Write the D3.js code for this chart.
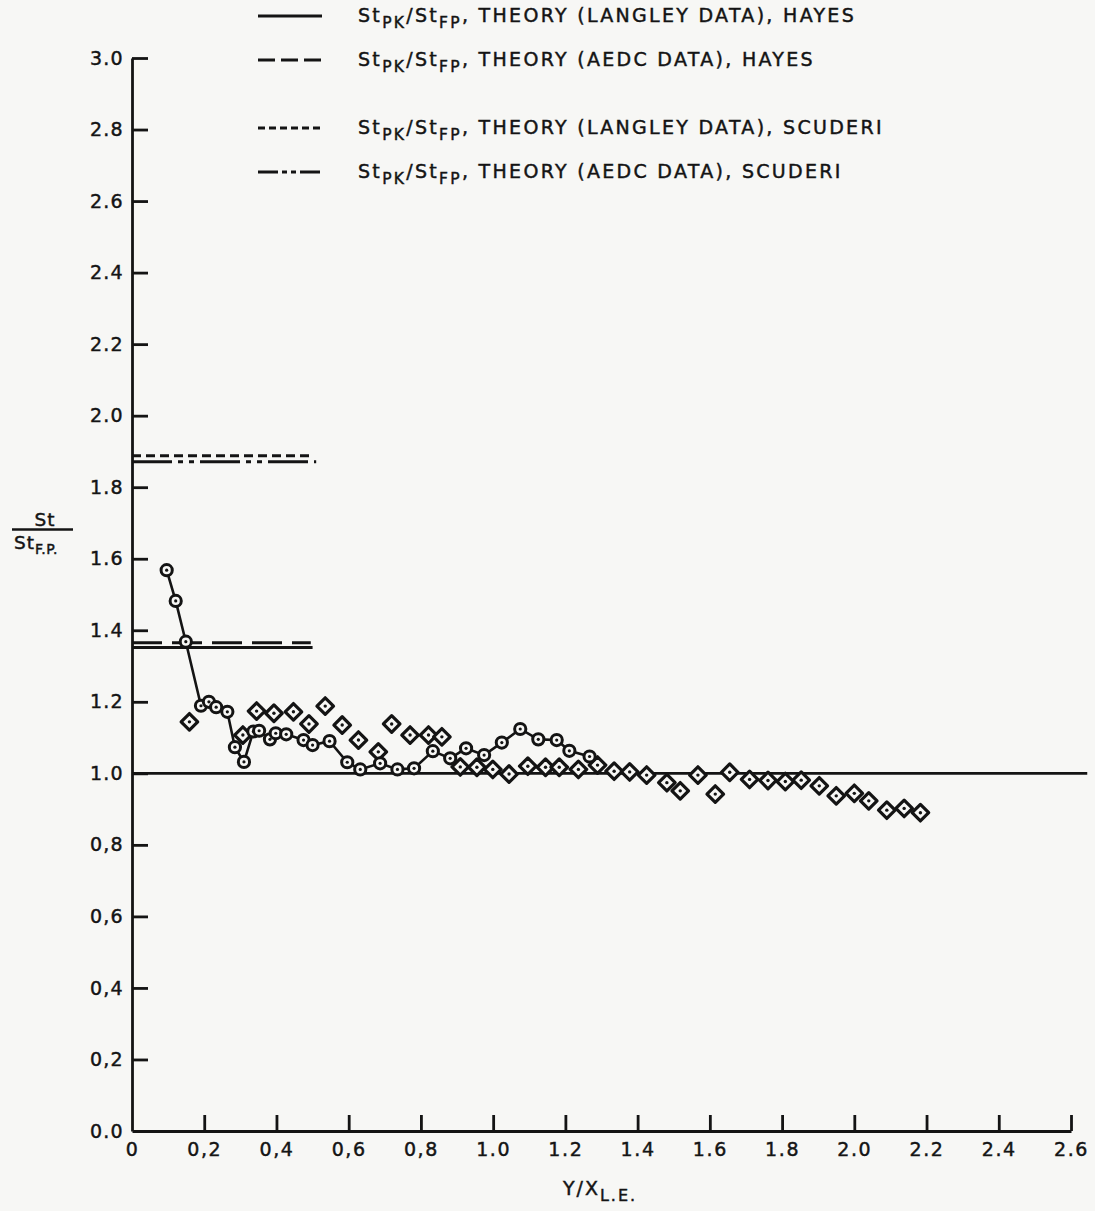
<!DOCTYPE html>
<html><head><meta charset="utf-8">
<script src="https://cdn.jsdelivr.net/npm/d3@7"></script>
<style>body{margin:0;background:#f7f7f5}</style>
</head><body><svg id="c" width="1095" height="1211"></svg>
<script>
// Data: circles (connected) and diamonds
const circleX = [0.096,0.121,0.149,0.191,0.213,0.233,0.264,0.285,0.310,0.336,0.352,0.382,0.398,0.427,0.475,0.500,0.547,0.596,0.632,0.687,0.735,0.781,0.833,0.881,0.925,0.975,1.024,1.075,1.125,1.176,1.211,1.267];
const circleY = [1.568,1.482,1.368,1.189,1.200,1.185,1.172,1.073,1.032,1.117,1.119,1.095,1.112,1.109,1.093,1.079,1.090,1.031,1.011,1.028,1.011,1.014,1.062,1.042,1.070,1.051,1.086,1.124,1.095,1.093,1.063,1.047];
const diamondX = [0.159,0.307,0.345,0.393,0.447,0.490,0.535,0.582,0.627,0.682,0.719,0.770,0.821,0.858,0.909,0.955,0.999,1.044,1.096,1.145,1.183,1.236,1.289,1.335,1.378,1.425,1.481,1.518,1.567,1.615,1.655,1.710,1.761,1.809,1.853,1.903,1.950,2.000,2.040,2.090,2.138,2.183];
const diamondY = [1.144,1.107,1.174,1.168,1.172,1.138,1.188,1.135,1.093,1.060,1.138,1.107,1.107,1.102,1.018,1.017,1.011,0.998,1.020,1.017,1.017,1.011,1.023,1.006,1.004,0.995,0.974,0.951,0.995,0.942,1.003,0.983,0.980,0.977,0.981,0.965,0.937,0.944,0.923,0.897,0.902,0.890];
// Theory lines (value, x extent)
const theoryNames = ["THEORY (LANGLEY DATA), HAYES","THEORY (AEDC DATA), HAYES","THEORY (LANGLEY DATA), SCUDERI","THEORY (AEDC DATA), SCUDERI"];
const theoryValues = [1.352,1.365,1.888,1.871];
const theoryXEnd = [0.5,0.495,0.495,0.51];
const theoryDash = ["none","30,10","9,5","40,6,5,6,5,6"];
const legendDash = ["none","17,6","7,4","20,4,5,4,5,4"];
const refValue = 1.0, refXEnd = 2.645;
const xTicks = [0,0.2,0.4,0.6,0.8,1.0,1.2,1.4,1.6,1.8,2.0,2.2,2.4,2.6];
const xTickLabels = ["0","0,2","0,4","0,6","0,8","1.0","1.2","1.4","1.6","1.8","2.0","2.2","2.4","2.6"];
const yTicks = [0,0.2,0.4,0.6,0.8,1.0,1.2,1.4,1.6,1.8,2.0,2.2,2.4,2.6,2.8,3.0];
const yTickLabels = ["0.0","0,2","0,4","0,6","0,8","1.0","1.2","1.4","1.6","1.8","2.0","2.2","2.4","2.6","2.8","3.0"];

const INK = "#141414";
const BG = "#f7f7f5";
const FONT = "'DejaVu Sans', sans-serif";
const svg = d3.select("#c");
svg.append("rect").attr("width",1095).attr("height",1211).attr("fill",BG);
const x = d3.scaleLinear().domain([0,2.6]).range([132,1071]);
const y = d3.scaleLinear().domain([0,3]).range([1131,58]);

function inkText(sel, size, ls){
  sel.attr("fill",INK).attr("font-family",FONT).attr("font-size",size)
     .attr("letter-spacing",ls).attr("stroke",INK).attr("stroke-width",0.45);
}

// axes
const xAxis = d3.axisBottom(x).tickValues(xTicks).tickFormat((d,i)=>xTickLabels[i]).tickSize(-16).tickSizeOuter(0).tickPadding(12);
const gx = svg.append("g").attr("transform","translate(0,1131)").call(xAxis);
const yAxis = d3.axisLeft(y).tickValues(yTicks).tickFormat((d,i)=>yTickLabels[i]).tickSize(-16).tickSizeOuter(0).tickPadding(8);
const gy = svg.append("g").attr("transform","translate(132,0)").call(yAxis);
[gx,gy].forEach(g=>{
  g.selectAll("path,line").attr("stroke",INK).attr("stroke-width",2.8);
});
inkText(gx.selectAll("text"), 19, 1.6);
inkText(gy.selectAll("text"), 19, 1.3);
gx.selectAll(".tick").filter(d=>d===0).select("line").remove();
gy.selectAll(".tick").filter(d=>d===0).select("line").remove();

// reference line at 1.0
svg.append("line").attr("x1",x(0)).attr("x2",x(refXEnd)).attr("y1",y(refValue)).attr("y2",y(refValue))
  .attr("stroke",INK).attr("stroke-width",2.6);

// theory lines
theoryValues.forEach((v,i)=>{
  svg.append("line").attr("x1",x(0)).attr("x2",x(theoryXEnd[i])).attr("y1",y(v)).attr("y2",y(v))
    .attr("stroke",INK).attr("stroke-width",3).attr("stroke-dasharray",theoryDash[i]);
});

// connecting line for circles
const circ = circleX.map((d,i)=>[d,circleY[i]]);
svg.append("path").datum(circ).attr("d",d3.line().x(d=>x(d[0])).y(d=>y(d[1])))
  .attr("fill","none").attr("stroke",INK).attr("stroke-width",2.6);

// diamonds
const dia = diamondX.map((d,i)=>[d,diamondY[i]]);
const dg = svg.append("g").selectAll("g").data(dia).join("g").attr("transform",d=>`translate(${x(d[0])},${y(d[1])})`);
dg.append("path").attr("d","M0,-8.3L8.3,0L0,8.3L-8.3,0Z").attr("fill",BG).attr("stroke",INK).attr("stroke-width",3.2).attr("stroke-linejoin","round");
dg.append("circle").attr("r",1.7).attr("fill",INK);

// circles
const cg = svg.append("g").selectAll("g").data(circ).join("g").attr("transform",d=>`translate(${x(d[0])},${y(d[1])})`);
cg.append("circle").attr("r",5.6).attr("fill",BG).attr("stroke",INK).attr("stroke-width",3);
cg.append("circle").attr("r",1.6).attr("fill",INK);

// legend
const legendY = [16,60,128,172];
theoryNames.forEach((name,i)=>{
  const ly = legendY[i];
  svg.append("line").attr("x1",258).attr("x2",322).attr("y1",ly).attr("y2",ly)
    .attr("stroke",INK).attr("stroke-width",2.8).attr("stroke-dasharray",legendDash[i]);
  const t = svg.append("text").attr("x",358).attr("y",ly+6);
  inkText(t, 19, 2.3);
  t.append("tspan").text("St");
  t.append("tspan").attr("dy",6).attr("font-size",15.5).text("PK");
  t.append("tspan").attr("dy",-6).text("/St");
  t.append("tspan").attr("dy",6).attr("font-size",15.5).text("FP");
  t.append("tspan").attr("dy",-6).text(", " + name);
});

// y-axis label
const yt = svg.append("text").attr("x",45).attr("y",526).attr("text-anchor","middle");
inkText(yt, 18.5, 1); yt.text("St");
svg.append("line").attr("x1",12).attr("x2",73).attr("y1",529.5).attr("y2",529.5).attr("stroke",INK).attr("stroke-width",2.6);
const yl = svg.append("text").attr("x",14).attr("y",549);
inkText(yl, 18.5, 1);
yl.append("tspan").text("St");
yl.append("tspan").attr("dy",5).attr("font-size",14).attr("letter-spacing",0.5).text("F.P.");

// x-axis label
const xl = svg.append("text").attr("x",600).attr("y",1195).attr("text-anchor","middle");
inkText(xl, 19, 2);
xl.append("tspan").text("Y/X");
xl.append("tspan").attr("dy",6).attr("font-size",16).text("L.E.");
</script></body></html>
